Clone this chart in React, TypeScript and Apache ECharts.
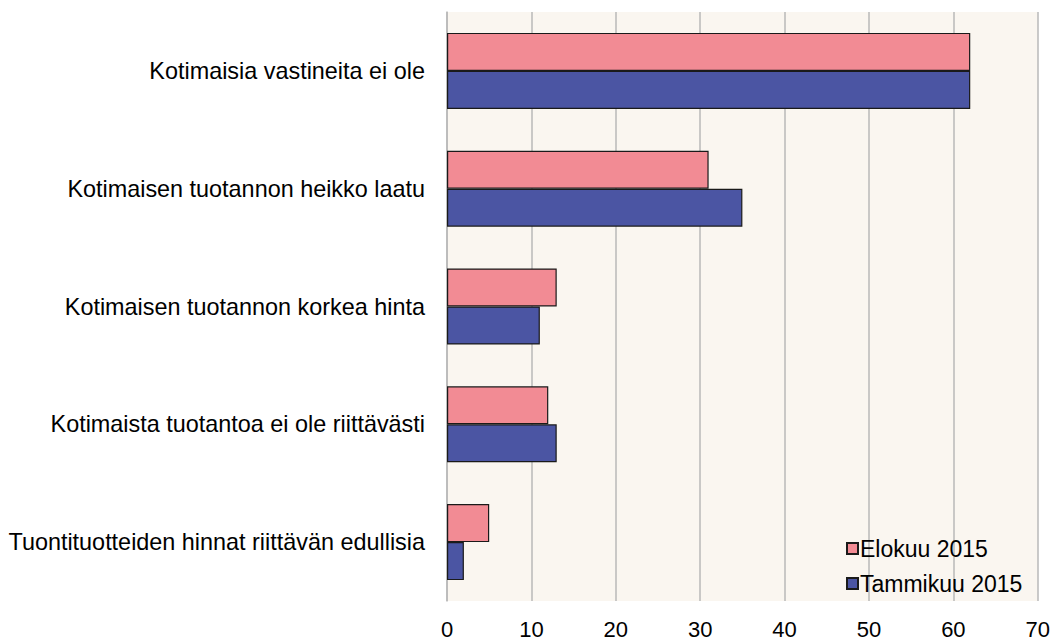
import React, { useEffect, useRef } from "react";
import * as echarts from "echarts";

const categories = [
  "Kotimaisia vastineita ei ole",
  "Kotimaisen tuotannon heikko laatu",
  "Kotimaisen tuotannon korkea hinta",
  "Kotimaista tuotantoa ei ole riittävästi",
  "Tuontituotteiden hinnat riittävän edullisia",
];
const elokuu2015 = [62, 31, 13, 12, 5];
const tammikuu2015 = [62, 35, 11, 13, 2];
const xTicks = [0, 10, 20, 30, 40, 50, 60, 70];

export default function App() {
  const ref = useRef<HTMLDivElement>(null);
  useEffect(() => {
    if (!ref.current) return;
    const chart = echarts.init(ref.current, undefined, { renderer: "svg", width: 1053, height: 640 });
    const font = "Liberation Sans, Arial, sans-serif";
    chart.setOption({
      animation: false,
      textStyle: { fontFamily: font },
      grid: { left: 447, right: 13, top: 12, bottom: 28, containLabel: false, show: true, backgroundColor: "#faf6f0", borderWidth: 0 },
      legend: {
        orient: "vertical",
        left: 841,
        top: 532,
        itemWidth: 11,
        itemHeight: 11,
        itemGap: 12,
        icon: "rect",
        textStyle: { fontFamily: font, fontSize: 23, color: "#000", padding: [0, 0, 0, -3] },
        data: ["Elokuu 2015", "Tammikuu 2015"],
      },
      xAxis: {
        type: "value",
        min: xTicks[0],
        max: xTicks[xTicks.length - 1],
        interval: 10,
        axisLine: { show: false },
        axisTick: { show: false },
        axisLabel: { fontFamily: font, fontSize: 22, color: "#000", margin: 17 },
        splitLine: { show: true, lineStyle: { color: "#b8b8b8", width: 1.5 } },
      },
      yAxis: {
        type: "category",
        data: categories,
        inverse: true,
        axisLine: { show: true, lineStyle: { color: "#b8b8b8", width: 1.5 } },
        axisTick: { show: false },
        axisLabel: { fontFamily: font, fontSize: 23.4, color: "#000", margin: 22 },
      },
      series: [
        {
          name: "Elokuu 2015",
          type: "bar",
          data: elokuu2015,
          barWidth: 38,
          barGap: "0%",
          itemStyle: { color: "#f28b94", borderColor: "#1a1a1a", borderWidth: 1.2 },
        },
        {
          name: "Tammikuu 2015",
          type: "bar",
          data: tammikuu2015,
          barWidth: 38,
          barGap: "0%",
          itemStyle: { color: "#4b55a3", borderColor: "#1a1a1a", borderWidth: 1.2 },
        },
      ],
    });
    return () => chart.dispose();
  }, []);
  return <div ref={ref} style={{ width: 1053, height: 640, position: "absolute", left: 0, top: 0 }} />;
}
